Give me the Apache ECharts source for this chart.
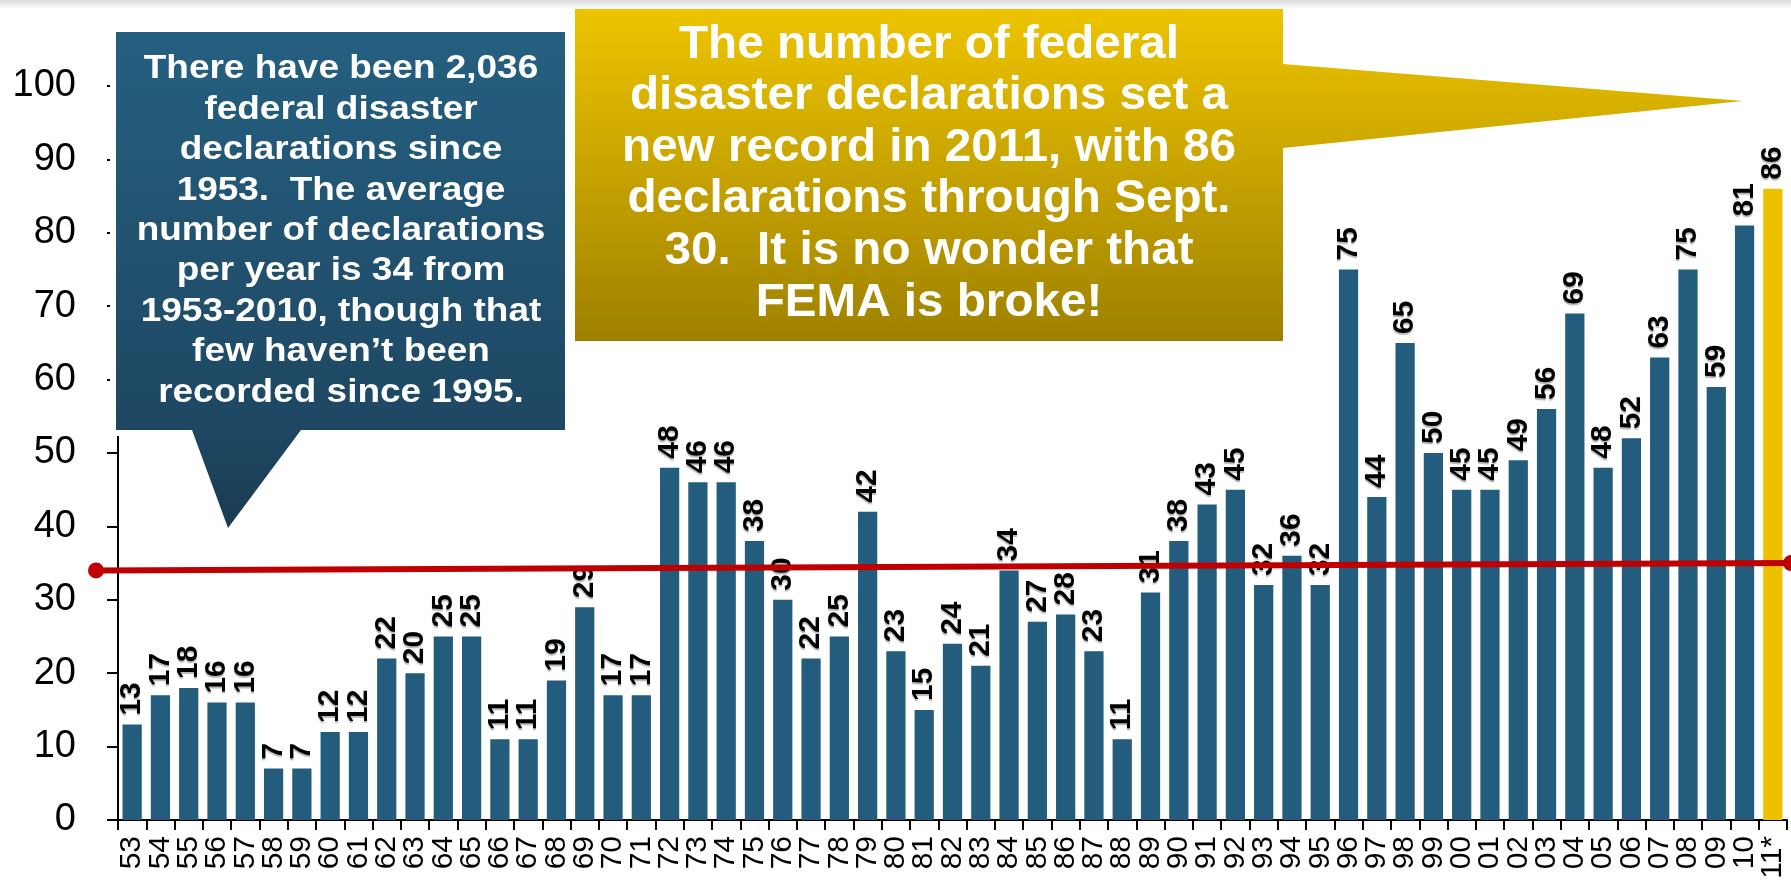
<!DOCTYPE html>
<html>
<head>
<meta charset="utf-8">
<title>Federal Disaster Declarations 1953-2011</title>
<script src="https://cdn.jsdelivr.net/npm/echarts@6/dist/echarts.min.js"></script>
<style>
  html, body { margin: 0; padding: 0; background: #ffffff; }
  #chart { width: 1791px; height: 883px; }
</style>
</head>
<body>
<div id="chart"></div>
<script>
// Year labels (two-digit), 1953 through 2011 (2011 through Sept. 30)
const years = [
  '53','54','55','56','57','58','59','60','61','62','63','64','65','66','67','68','69',
  '70','71','72','73','74','75','76','77','78','79','80','81','82','83','84','85','86',
  '87','88','89','90','91','92','93','94','95','96','97','98','99','00','01','02','03',
  '04','05','06','07','08','09','10','11*'
];

// Number of federal disaster declarations per year
const declarations = [
  13, 17, 18, 16, 16, 7, 7, 12, 12, 22, 20, 25, 25, 11, 11, 19, 29,
  17, 17, 48, 46, 46, 38, 30, 22, 25, 42, 23, 15, 24, 21, 34, 27, 28,
  23, 11, 31, 38, 43, 45, 32, 36, 32, 75, 44, 65, 50, 45, 45, 49, 56,
  69, 48, 52, 63, 75, 59, 81, 86
];

// Average line (start and end levels)
const averageLine = [34, 35];

// Value axis range
const yMin = 0;
const yMax = 100;
const yStep = 10;

const blueText = [
  'There have been 2,036',
  'federal disaster',
  'declarations since',
  '1953.  The average',
  'number of declarations',
  'per year is 34 from',
  '1953-2010, though that',
  'few haven\u2019t been',
  'recorded since 1995.'
];

const goldText = [
  'The number of federal',
  'disaster declarations set a',
  'new record in 2011, with 86',
  'declarations through Sept.',
  '30.  It is no wonder that',
  'FEMA is broke!'
];

const BAR_BLUE = '#235c7c';
const BAR_GOLD = '#edc100';
const FONT = '"Liberation Sans", Arial, Helvetica, sans-serif';

const lastIdx = declarations.length - 1;
const barData = declarations.map((v, i) =>
  i === lastIdx ? { value: v, itemStyle: { color: BAR_GOLD } } : v
);

const chart = echarts.init(document.getElementById('chart'), null, { renderer: 'canvas' });

const gridBox = { left: 118, right: 4, top: 86, bottom: 63 };

const option = {
  backgroundColor: '#ffffff',
  animation: false,
  textStyle: { fontFamily: FONT },
  grid: [
    Object.assign({ containLabel: false }, gridBox),
    { left: 96, width: 1697, top: gridBox.top, bottom: gridBox.bottom, containLabel: false }
  ],
  xAxis: [
    {
      type: 'category',
      gridIndex: 0,
      data: years,
      boundaryGap: true,
      axisLine: { show: true, lineStyle: { color: '#000', width: 2 } },
      axisTick: { show: true, length: 10, lineStyle: { color: '#000', width: 2 } },
      axisLabel: {
        interval: 0,
        rotate: 90,
        margin: 16,
        color: '#000',
        fontSize: 30,
        fontFamily: FONT
      },
      splitLine: { show: false }
    },
    {
      type: 'category',
      gridIndex: 1,
      data: ['start', 'end'],
      boundaryGap: false,
      show: false
    }
  ],
  yAxis: [
    {
      type: 'value',
      gridIndex: 0,
      min: yMin,
      max: yMax,
      interval: yStep,
      axisLine: { show: true, lineStyle: { color: '#000', width: 2 } },
      axisTick: { show: true, length: 11, lineStyle: { color: '#000', width: 2 } },
      axisLabel: { margin: 42, color: '#000', fontSize: 38, fontFamily: FONT },
      splitLine: { show: false }
    },
    {
      type: 'value',
      gridIndex: 1,
      min: yMin,
      max: yMax,
      show: false
    }
  ],
  series: [
    {
      type: 'bar',
      xAxisIndex: 0,
      yAxisIndex: 0,
      data: barData,
      barCategoryGap: '32%',
      itemStyle: { color: BAR_BLUE },
      z: 2,
      label: {
        show: true,
        position: 'top',
        distance: 9,
        rotate: 90,
        align: 'left',
        verticalAlign: 'middle',
        color: '#000',
        fontSize: 30,
        fontWeight: 'bold',
        fontFamily: FONT,
        textShadowColor: 'rgba(0,0,0,0.28)',
        textShadowBlur: 1,
        textShadowOffsetX: 0,
        textShadowOffsetY: 2
      }
    },
    {
      type: 'line',
      xAxisIndex: 1,
      yAxisIndex: 1,
      data: averageLine,
      symbol: 'circle',
      symbolSize: 16,
      lineStyle: { color: '#c00000', width: 6 },
      itemStyle: { color: '#c00000' },
      z: 6,
      silent: true
    }
  ],
  graphic: [
    // faint shading along the top edge of the slide
    {
      type: 'rect',
      z: 1,
      shape: { x: 0, y: 0, width: 1791, height: 9 },
      style: {
        fill: new echarts.graphic.LinearGradient(0, 0, 0, 1, [
          { offset: 0, color: 'rgba(0,0,0,0.14)' },
          { offset: 1, color: 'rgba(0,0,0,0)' }
        ])
      }
    },
    // blue callout: white halo, then body with pointer
    {
      type: 'polygon',
      z: 20,
      shape: { points: [[116,32],[565,32],[565,430],[301,430],[228,528],[192,430],[116,430]] },
      style: { fill: '#ffffff', stroke: '#ffffff', lineWidth: 12, lineJoin: 'miter' }
    },
    {
      type: 'polygon',
      z: 21,
      shape: { points: [[116,32],[565,32],[565,430],[301,430],[228,528],[192,430],[116,430]] },
      style: {
        fill: new echarts.graphic.LinearGradient(0, 0, 0, 1, [
          { offset: 0, color: '#255f80' },
          { offset: 0.8, color: '#1e4762' },
          { offset: 1, color: '#1a3b51' }
        ])
      }
    },
    {
      type: 'text',
      z: 22,
      x: 341,
      y: 231,
      scaleX: 1.12,
      style: {
        text: blueText.join('\n'),
        fill: '#ffffff',
        font: 'bold 33px ' + FONT,
        lineHeight: 40.4,
        align: 'center',
        verticalAlign: 'middle'
      }
    },
    // gold callout pointing at the 2011 bar
    {
      type: 'polygon',
      z: 21,
      shape: { points: [[575,9],[1283,9],[1283,64],[1743,101],[1283,148],[1283,341],[575,341]] },
      style: {
        fill: new echarts.graphic.LinearGradient(0, 0, 0, 1, [
          { offset: 0, color: '#eec400' },
          { offset: 1, color: '#9e8100' }
        ])
      }
    },
    {
      type: 'text',
      z: 22,
      x: 929,
      y: 174,
      scaleX: 1.035,
      style: {
        text: goldText.join('\n'),
        fill: '#ffffff',
        font: 'bold 46px ' + FONT,
        lineHeight: 51.6,
        align: 'center',
        verticalAlign: 'middle'
      }
    }
  ]
};

chart.setOption(option);
</script>
</body>
</html>
